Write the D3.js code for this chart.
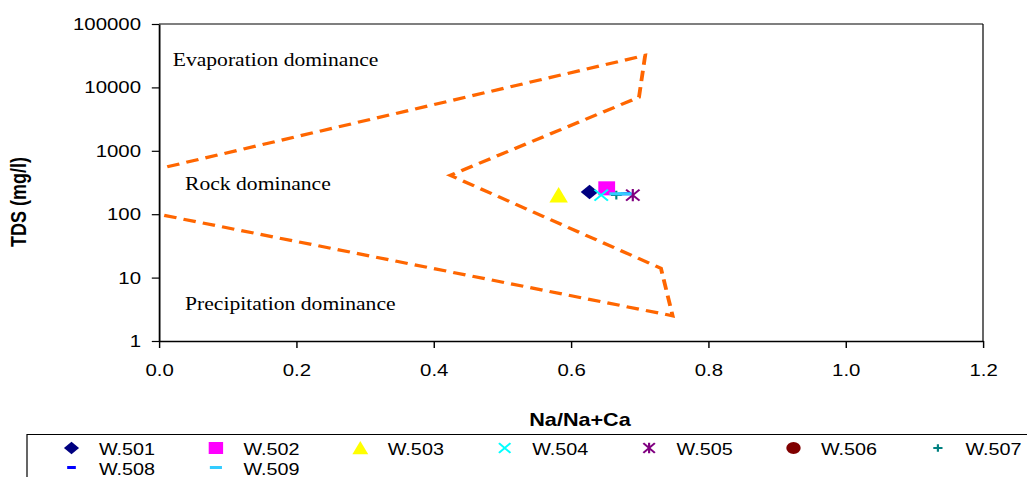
<!DOCTYPE html>
<html>
<head>
<meta charset="utf-8">
<script src="https://cdn.jsdelivr.net/npm/d3@7"></script>
<style>
  body { margin: 0; background: #fff; }
  svg { display: block; }
  text { font-family: "Liberation Sans", Arial, sans-serif; }
</style>
</head>
<body>
<svg></svg>
<script>
// data
var wells = ["W.501", "W.502", "W.503", "W.504", "W.505", "W.506", "W.507", "W.508", "W.509"];
var naRatio = [[0.627], [0.652], [0.582], [0.644], [0.690], [], [0.666], [0.680], [0.666, 0.678]];
var tdsValues = [[224], [256], [200], [200], [200], [], [200], [210], [210, 210]];

// Gibbs boundary (dashed)
var gibbsNa = [0.012, 0.708, 0.699, 0.424, 0.731, 0.748, 0.003];
var gibbsTds = [560, 32000, 7000, 410, 14, 2.5, 98];

var xTicks = [0, 0.2, 0.4, 0.6, 0.8, 1.0, 1.2];
var yTicks = [1, 10, 100, 1000, 10000, 100000];

var zoneLabels = ["Evaporation dominance", "Rock dominance", "Precipitation dominance"];
var zoneNa = [0.02, 0.038, 0.038];
var zoneTds = [21800, 241, 3.08];

// the whole picture is a bit wider than tall
var SX = 1.2;
var width = 1027;
var height = 477;
var plotLeft = 159 / SX, plotRight = 983 / SX, plotTop = 24, plotBottom = 341;

var svg = d3.select("svg")
    .attr("width", width)
    .attr("height", height);

var g = svg.append("g")
    .attr("transform", "scale(" + SX + ",1)");

var xScale = d3.scaleLinear()
    .domain([0, 1.2])
    .range([plotLeft, plotRight]);

var yScale = d3.scaleLog()
    .domain([1, 100000])
    .range([plotBottom, plotTop]);

// frame: top + right
g.append("line")
    .attr("x1", plotLeft).attr("x2", plotRight)
    .attr("y1", plotTop).attr("y2", plotTop)
    .attr("stroke", "#000").attr("stroke-width", 1);
g.append("line")
    .attr("x1", plotRight).attr("x2", plotRight)
    .attr("y1", plotTop).attr("y2", plotBottom)
    .attr("stroke", "#000").attr("stroke-width", 1);

var yAxis = g.append("g")
    .attr("transform", "translate(" + plotLeft + ",0)")
    .call(d3.axisLeft(yScale)
        .tickValues(yTicks)
        .tickFormat(d3.format("d"))
        .tickSize(6)
        .tickSizeOuter(0)
        .tickPadding(9));

var xAxis = g.append("g")
    .attr("transform", "translate(0," + plotBottom + ")")
    .call(d3.axisBottom(xScale)
        .tickValues(xTicks)
        .tickFormat(d3.format(".1f"))
        .tickSize(7)
        .tickSizeOuter(0)
        .tickPadding(15.5));

[xAxis, yAxis].forEach(function(ax) {
  ax.select(".domain").attr("stroke", "#000").attr("stroke-width", 1.5);
  ax.selectAll(".tick line").attr("stroke", "#000").attr("stroke-width", 1.2);
  ax.selectAll(".tick text")
      .attr("fill", "#000")
      .style("font-size", "17px")
      .style("font-family", "'Liberation Sans', Arial, sans-serif");
});

// axis titles
g.append("text")
    .attr("x", 580 / SX)
    .attr("y", 426.5)
    .attr("text-anchor", "middle")
    .style("font-size", "18px")
    .style("font-weight", "bold")
    .text("Na/Na+Ca");

g.append("text")
    .attr("transform", "translate(" + (26 / SX) + ",202) rotate(-90)")
    .attr("text-anchor", "middle")
    .style("font-size", "18px")
    .style("font-weight", "bold")
    .text("TDS (mg/l)");

// zone labels
g.selectAll(".zone")
    .data(zoneLabels)
    .enter()
    .append("text")
      .classed("zone", true)
      .attr("x", (d, i) => xScale(zoneNa[i]))
      .attr("y", (d, i) => yScale(zoneTds[i]))
      .style("font-family", "'Liberation Serif', 'Times New Roman', serif")
      .style("font-size", "18px")
      .text(d => d);

// boundary
var boundary = gibbsNa.map((d, i) => [d, gibbsTds[i]]);
g.append("path")
    .datum(boundary)
    .attr("d", d3.line().x(d => xScale(d[0])).y(d => yScale(d[1])))
    .attr("fill", "none")
    .attr("stroke", "#FF6600")
    .attr("stroke-width", 3.2)
    .attr("stroke-dasharray", "10.5,6");

// markers
var markerKinds = ["diamond", "square", "triangle", "x", "asterisk", "circle", "plus", "dash", "dash2"];
var markerColors = ["#000080", "#FF00FF", "#FFFF00", "#00FFFF", "#800080", "#800000", "#008080", "#0000FF", "#33CCFF"];

function drawMarker(sel, kind, color, s) {
  var h = s / 2;
  if (kind === "diamond") {
    sel.append("path")
        .attr("d", "M0," + (-h * 1.05) + "L" + (h * 1.05) + ",0L0," + (h * 1.05) + "L" + (-h * 1.05) + ",0Z")
        .attr("fill", color);
  } else if (kind === "square") {
    sel.append("rect")
        .attr("x", -h).attr("y", -h).attr("width", s).attr("height", s)
        .attr("fill", color);
  } else if (kind === "triangle") {
    sel.append("path")
        .attr("d", "M0," + (-h * 1.15) + "L" + (h * 1.1) + "," + (h * 1.05) + "L" + (-h * 1.1) + "," + (h * 1.05) + "Z")
        .attr("fill", color);
  } else if (kind === "circle") {
    sel.append("circle").attr("r", h).attr("fill", color);
  } else if (kind === "x" || kind === "asterisk" || kind === "plus") {
    var a = h * 0.8;
    var d = "";
    if (kind !== "plus") d += "M" + (-a) + "," + (-a) + "L" + a + "," + a + "M" + (-a) + "," + a + "L" + a + "," + (-a);
    if (kind === "asterisk") d += "M0," + (-a * 1.1) + "L0," + (a * 1.1);
    if (kind === "plus") d += "M" + (-a * 0.8) + ",0L" + (a * 0.8) + ",0M0," + (-a * 0.8) + "L0," + (a * 0.8);
    sel.append("path")
        .attr("d", d)
        .attr("fill", "none")
        .attr("stroke", color)
        .attr("stroke-width", 1.8);
  } else if (kind === "dash") {
    sel.append("rect")
        .attr("x", -s * 0.3).attr("y", -1.5).attr("width", s * 0.6).attr("height", 3)
        .attr("fill", color);
  } else if (kind === "dash2") {
    sel.append("rect")
        .attr("x", -s * 0.42).attr("y", -1.5).attr("width", s * 0.84).attr("height", 3)
        .attr("fill", color);
  }
}

wells.forEach(function(w, i) {
  naRatio[i].forEach(function(v, j) {
    var m = g.append("g")
        .attr("transform", "translate(" + xScale(v) + "," + yScale(tdsValues[i][j]) + ")");
    drawMarker(m, markerKinds[i], markerColors[i], 14);
  });
});

// legend
g.append("rect")
    .attr("x", 27 / SX)
    .attr("y", 434.5)
    .attr("width", 1100 / SX)
    .attr("height", 80)
    .attr("fill", "none")
    .attr("stroke", "#000")
    .attr("stroke-width", 1);

var items = g.selectAll(".legend-item")
    .data(wells)
    .enter()
    .append("g")
      .classed("legend-item", true)
      .attr("transform", (d, i) => "translate(" + ((71.5 + (i % 7) * 144.4) / SX) + "," + (448 + Math.floor(i / 7) * 19.5) + ")");

items.each(function(d, i) {
  drawMarker(d3.select(this), markerKinds[i], markerColors[i], 12);
});

items.append("text")
    .attr("x", 27.5 / SX)
    .attr("y", 7)
    .style("font-size", "16.5px")
    .text(d => d);
</script>
</body>
</html>
